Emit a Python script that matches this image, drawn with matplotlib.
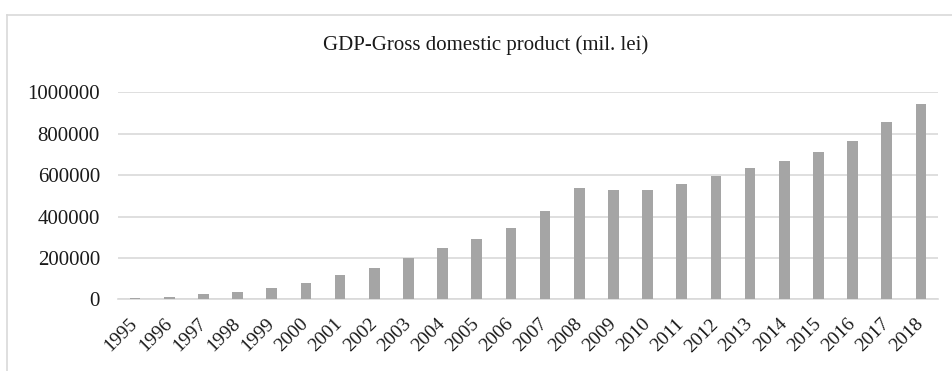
import numpy as np
import matplotlib.pyplot as plt
from matplotlib.lines import Line2D

years = [str(y) for y in range(1995, 2019)]
gdp = [7200, 10900, 25300, 37400, 54600, 80400, 117900, 152000, 197400,
       247400, 288900, 344700, 425000, 539000, 530000, 527000, 558000,
       594000, 634000, 668000, 712000, 765000, 857000, 944000]
yticks = [0, 200000, 400000, 600000, 800000, 1000000]

plt.rcParams['font.family'] = ['Liberation Serif', 'DejaVu Serif']

fig = plt.figure(figsize=(9.53, 3.71), dpi=100)
ax = fig.add_axes([118/953, 1 - 299.3/371, 820/953, 207/371])

x = np.arange(len(years))
ax.bar(x, gdp, width=0.31, color='#a5a5a5', zorder=3)

ax.set_xlim(-0.5, len(years) - 0.5)
ax.set_ylim(0, 1000000)
ax.set_yticks(yticks)
ax.set_yticklabels([str(v) for v in yticks])
ax.set_xticks(x)
ax.set_xticklabels(years, rotation=45, ha='right', va='center',
                   rotation_mode='anchor')
ax.tick_params(axis='both', length=0, colors='#1a1a1a')
ax.tick_params(axis='y', pad=13, labelsize=15)
ax.tick_params(axis='x', pad=16, labelsize=14)
ax.grid(axis='y', color='#d9d9d9', lw=1.2, zorder=0)
for s in ['top', 'right', 'left']:
    ax.spines[s].set_visible(False)
ax.spines['bottom'].set_color('#d9d9d9')
ax.spines['bottom'].set_linewidth(1.2)

fig.text(486/953, 1 - 45/371, 'GDP-Gross domestic product (mil. lei)',
         ha='center', va='center', fontsize=15, color='#1a1a1a')

# chart area border (left and top edges only fall inside the image)
fig.add_artist(Line2D([7/953, 7/953], [0, 1 - 15/371], color='#d9d9d9', lw=1.2))
fig.add_artist(Line2D([7/953, 1], [1 - 15/371, 1 - 15/371], color='#d9d9d9', lw=1.2))

fig.savefig('out.png', dpi=100)
